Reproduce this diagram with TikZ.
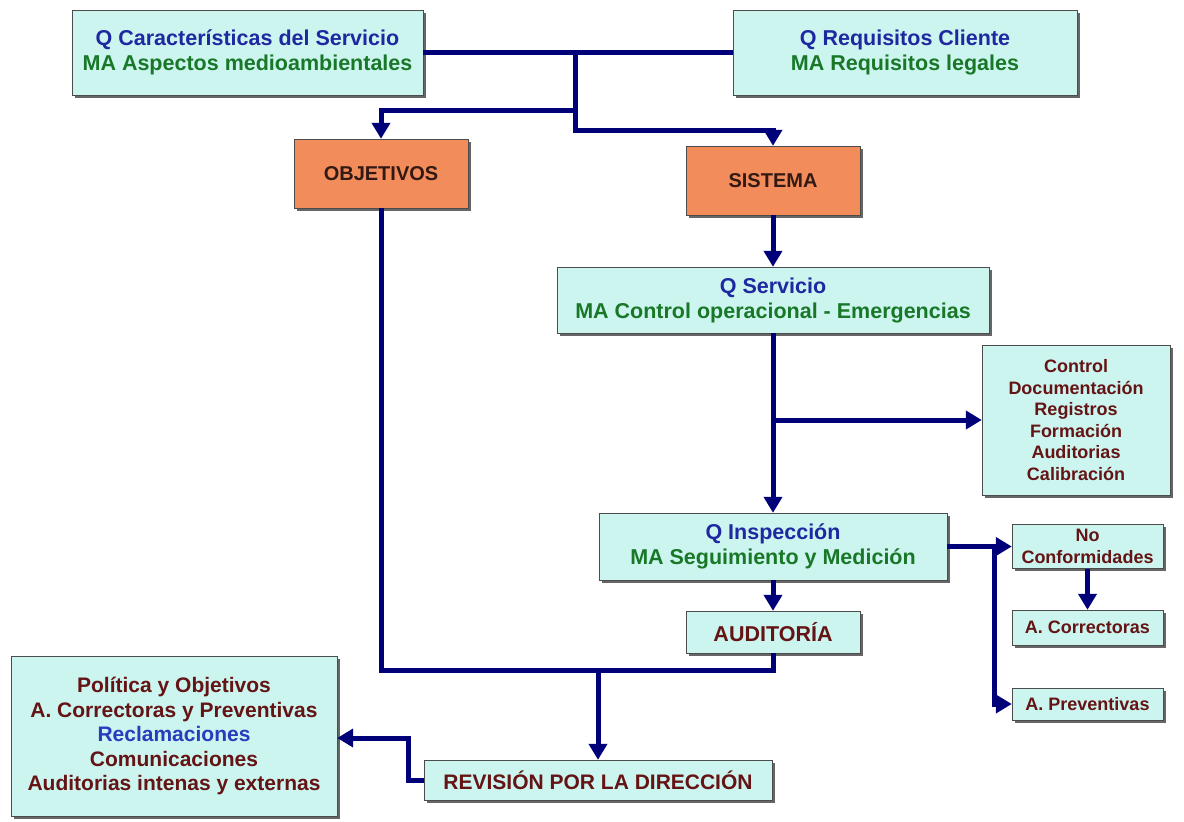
\documentclass[tikz,border=0pt]{standalone}
\usepackage{fontspec}
\setmainfont{Liberation Sans}
\usetikzlibrary{shapes.geometric, arrows.meta, shadows}
\definecolor{qblue}{RGB}{30,40,160}
\definecolor{magreen}{RGB}{25,120,40}
\definecolor{darkred}{RGB}{100,20,20}
\definecolor{goaltext}{RGB}{50,25,20}
\definecolor{reclblue}{RGB}{40,60,190}
\definecolor{boxfill}{RGB}{204,245,240}
\definecolor{orangefill}{RGB}{242,140,90}
\definecolor{navyline}{RGB}{0,0,120}
\tikzstyle{box} = [rectangle, draw=black!70, fill=boxfill, inner sep=0pt, align=center, drop shadow={shadow xshift=2.5pt, shadow yshift=-2.5pt, fill=black!60, opacity=1}, font=\fontsize{21.5}{25}\selectfont\bfseries]
\tikzstyle{smallbox} = [box, font=\fontsize{18}{21.5}\selectfont\bfseries, text=darkred]
\tikzstyle{goal} = [box, fill=orangefill, font=\fontsize{20}{22}\selectfont\bfseries, text=goaltext]
\tikzstyle{link} = [line width=5pt, draw=navyline]
\tikzstyle{arrow} = [link, -{Triangle[length=16pt,width=18pt]}]

\begin{document}
\begin{tikzpicture}[x=1pt, y=-1pt]
\fill[white] (0,0) rectangle (1184,822);
\useasboundingbox (0,0) rectangle (1184,822);
\node (carac)  [box, minimum width=351pt, minimum height=85pt] at (247.5,52.5) {\textcolor{qblue}{Q Características del Servicio}\\\textcolor{magreen}{MA Aspectos medioambientales}};
\node (req)    [box, minimum width=344pt, minimum height=85pt] at (905,52.5) {\textcolor{qblue}{Q Requisitos Cliente}\\\textcolor{magreen}{MA Requisitos legales}};
\node (obj)    [goal, minimum width=174pt, minimum height=69pt] at (381,173.5) {OBJETIVOS};
\node (sis)    [goal, minimum width=174pt, minimum height=69pt] at (773,180.5) {SISTEMA};
\node (serv)   [box, minimum width=432pt, minimum height=66pt] at (773,300) {\textcolor{qblue}{Q Servicio}\\\textcolor{magreen}{MA Control operacional - Emergencias}};
\node (ctrl)   [smallbox, minimum width=188pt, minimum height=150pt] at (1076,420) {Control\\Documentación\\Registros\\Formación\\Auditorias\\Calibración};
\node (insp)   [box, minimum width=348pt, minimum height=67pt] at (773,546.5) {\textcolor{qblue}{Q Inspección}\\\textcolor{magreen}{MA Seguimiento y Medición}};
\node (aud)    [box, text=darkred, minimum width=174pt, minimum height=42pt] at (773,632) {AUDITORÍA};
\node (noconf) [smallbox, minimum width=151pt, minimum height=44pt] at (1087.5,546.5) {No\\Conformidades};
\node (acorr)  [smallbox, minimum width=151pt, minimum height=35pt] at (1087.5,627.5) {A. Correctoras};
\node (aprev)  [smallbox, minimum width=151pt, minimum height=32pt] at (1087.5,704) {A. Preventivas};
\node (polit)  [box, text=darkred, font=\fontsize{21}{24.5}\selectfont\bfseries, minimum width=326pt, minimum height=160pt] at (174,736) {Política y Objetivos\\A. Correctoras y Preventivas\\\textcolor{reclblue}{Reclamaciones}\\Comunicaciones\\Auditorias intenas y externas};
\node (rev)    [box, text=darkred, font=\fontsize{21}{25}\selectfont\bfseries, minimum width=348pt, minimum height=40pt] at (598,780) {REVISIÓN POR LA DIRECCIÓN};

% junctions of the connectors
\coordinate (split)    at (575,52.5);
\coordinate (splitmid) at (575,110);
\coordinate (splitlow) at (575,130);
\coordinate (ctrlfork) at (773,420);
\coordinate (ncfork)   at (994,546.5);
\coordinate (bottom)   at (598,670);
\coordinate (elbow)    at (408,738);

\draw [link]  (carac.east) -- (req.west);
\draw [arrow] (split) -- (splitlow) -| (sis.north);
\draw [arrow] (splitmid) -| (obj.north);
\draw [arrow] (sis) -- (serv);
\draw [arrow] (serv) -- (insp);
\draw [arrow] (ctrlfork) -- (ctrl.west);
\draw [arrow] (insp) -- (aud);
\draw [link]  (insp.east) -- (ncfork);
\draw [arrow] (ncfork) -- (noconf.west);
\draw [arrow] (ncfork) |- (aprev.west);
\draw [arrow] (noconf) -- (acorr);
\draw [link]  (obj.south) -- (obj.south |- bottom) -| (aud.south);
\draw [arrow] (bottom) -- (rev.north);
\draw [arrow] (rev.west) -| (elbow) -- (polit.east |- elbow);
\end{tikzpicture}
\end{document}
